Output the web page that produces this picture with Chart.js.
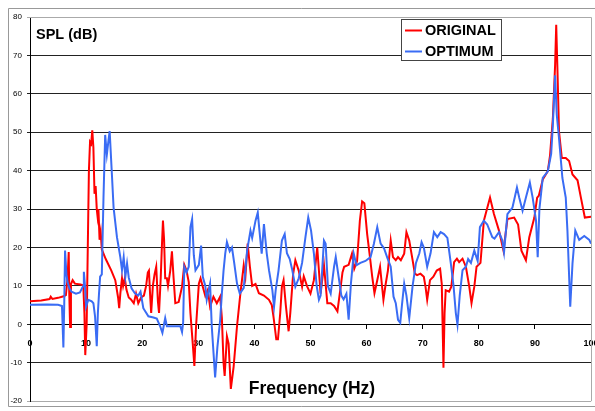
<!DOCTYPE html>
<html>
<head>
<meta charset="utf-8">
<script src="https://cdn.jsdelivr.net/npm/chart.js@4.4.0/dist/chart.umd.min.js"></script>
<style>
  body { margin: 0; background: #fff; }
  #wrap { width: 595px; height: 411px; }
</style>
</head>
<body>
<div id="wrap"><canvas id="splChart" width="595" height="411"></canvas></div>
<script>
// Frequency (Hz) and SPL (dB), 10 per row
const originalFreq = [
  0, 2, 3.5, 3.7, 4, 5, 6, 6.4, 6.7, 6.9,
  7.0, 7.15, 7.3, 7.6, 8, 9, 9.5, 9.7, 9.85, 10.1,
  10.3, 10.5, 10.7, 10.9, 11.1, 11.3, 11.5, 11.7, 11.9, 12.05,
  12.2, 12.4, 12.6, 12.8, 13.5, 14.5, 15.2, 15.7, 15.9, 16.1,
  16.4, 16.6, 16.9, 17.2, 17.6, 18, 18.5, 18.9, 19.3, 19.8,
  20.3, 20.7, 21.0, 21.2, 21.4, 21.6, 21.9, 22.2, 22.5, 22.8,
  23.0, 23.3, 23.5, 23.7, 23.9, 24.1, 24.4, 24.6, 25.0, 25.3,
  25.6, 25.9, 26.5, 27.1, 27.5, 27.9, 28.3, 28.6, 29.0, 29.3,
  29.6, 30.1, 30.4, 30.8, 31.25, 31.7, 32.1, 32.7, 33.3, 33.9,
  34.2, 34.5, 34.7, 35.1, 35.4, 35.8, 36.3, 36.9, 37.5, 38.1,
  38.4, 38.8, 39.2, 39.6, 40.2, 40.8, 41.7, 42.6, 43.1, 43.4,
  43.9, 44.2, 44.6, 44.9, 45.2, 45.6, 46.1, 46.4, 46.9, 47.3,
  47.9, 48.5, 48.8, 49.4, 50.0, 50.6, 51.2, 51.8, 52.4, 53.0,
  53.6, 54.2, 54.8, 55.4, 55.7, 56.0, 56.8, 57.4, 57.8, 58.3,
  58.8, 59.2, 59.6, 60.1, 60.6, 61.0, 61.4, 61.9, 62.4, 63.0,
  63.4, 63.8, 64.3, 64.7, 65.2, 65.6, 66.1, 66.7, 67.1, 67.6,
  68.2, 68.6, 69.0, 69.6, 70.2, 70.5, 70.8, 71.3, 71.9, 72.5,
  73.1, 73.4, 73.6, 73.7, 73.9, 74.1, 74.7, 75.1, 75.6, 76.1,
  76.5, 77.1, 77.7, 78.3, 78.7, 79.2, 79.6, 80.3, 80.9, 82.0,
  82.7, 83.6, 84.4, 85.1, 86.3, 87.0, 87.6, 88.4, 89.0, 89.9,
  90.4, 90.7, 91.4, 92.3, 92.7, 93.2, 93.6, 93.8, 94.0, 94.3,
  94.8, 95.5, 96.1, 96.7, 97.6, 98.2, 98.9, 100];
const originalSpl = [
  6.0, 6.2, 6.6, 7.2, 6.6, 6.9, 7.3, 7.6, 12, 18.8,
  8, -0.7, 10.5, 11.5, 10.6, 10.4, 10.1, 3, -8, 0,
  20, 40, 47.5, 47, 50.5, 46, 34, 36, 30, 28,
  30, 22, 24, 19.5, 17, 14, 11.5, 7, 4.2, 8,
  12, 10, 12, 9, 7, 6.5, 5.5, 8, 5.5, 7,
  7.5, 10, 13.5, 14, 8, 3, 10, 13, 15, 6,
  3, 12, 20, 27, 22, 12, 12, 10, 14, 19,
  12, 5.5, 5.8, 9.8, 15.5, 14, 11, 2.9, -4.8, -10.8,
  -0.5, 10.6, 12, 9.8, 7.4, 9, 4.6, 7.2, 5.5, 7.2,
  1.7, -10, -13.4, -3.1, -5, -16.8, -11, -0.5, 8, 15.4,
  12.5, 21, 15, 10, 10.5, 8.1, 7.5, 6.4, 5, 2,
  -3.9, -3.9, 2.9, 9.8, 11.5, 5, -1.8, 3, 13, 16.7,
  14, 9.8, 12.5, 9.9, 8, 11.5, 20, 8, 15.4, 5.5,
  5.5, 4.8, 3.4, 10, 13.5, 15, 15.5, 18.4, 14.5, 16.5,
  27, 32, 31.5, 23.5, 17.5, 12.4, 8.1, 11.5, 15, 6.4,
  10.5, 14, 21.8, 17.5, 16.7, 17.5, 16.7, 18.4, 24, 21.8,
  16.7, 13.2, 12.8, 13.2, 12.4, 9.8, 6.4, 11.5, 12.4, 14,
  14.5, 10.5, -3.9, -11.3, 3, 8.9, 8.5, 9.8, 16.2, 17.1,
  16.2, 17.1, 15, 9.8, 5.5, 9.8, 15, 16, 27, 33,
  28.7, 24.4, 19.2, 27.4, 27.8, 26, 19.2, 16.7, 22.7, 27.8,
  33, 33.5, 37.7, 39.9, 44, 53.6, 67.4, 78, 67.4, 50.2,
  43.3, 43.3, 42.5, 39, 37.5, 33, 27.8, 28];

const optimumFreq = [
  0, 3, 5, 5.7, 5.95, 6.1, 6.25, 6.5, 6.7, 7.0,
  7.4, 8.2, 8.9, 9.3, 9.5, 9.6, 9.8, 10.0, 10.4, 11.0,
  11.3, 11.6, 11.9, 12.1, 12.3, 12.5, 12.8, 13.1, 13.4, 13.7,
  14.0, 14.2, 14.6, 14.9, 15.5, 16.1, 16.4, 16.7, 17.0, 17.3,
  17.6, 18.1, 18.7, 19.3, 19.7, 20.2, 21.1, 22.0, 22.6, 23.2,
  23.6, 24.1, 24.4, 26.8, 27.1, 27.3, 27.5, 27.9, 28.3, 28.6,
  28.9, 29.2, 29.5, 30.1, 30.5, 30.8, 31.25, 31.5, 32.1, 32.4,
  33.0, 33.4, 33.9, 34.2, 34.5, 34.8, 35.1, 35.6, 36.0, 36.4,
  36.9, 37.4, 38.1, 38.7, 39.3, 39.6, 40.2, 40.6, 40.9, 41.3,
  41.7, 42.2, 42.6, 43.2, 43.5, 43.8, 44.3, 44.9, 45.4, 45.8,
  46.3, 46.7, 47.3, 47.9, 48.5, 49.1, 49.6, 50.1, 50.6, 51.1,
  51.5, 51.8, 52.4, 52.7, 53.1, 53.6, 54.2, 54.5, 55.1, 55.5,
  55.9, 56.4, 56.8, 57.2, 57.7, 58.2, 58.9, 59.8, 60.7, 61.3,
  61.9, 62.5, 63.1, 63.7, 64.3, 64.8, 65.2, 65.6, 66.0, 66.3,
  66.7, 67.1, 67.6, 68.2, 68.8, 69.4, 69.8, 70.2, 70.8, 71.4,
  72.0, 72.6, 73.2, 73.8, 74.4, 75.0, 75.5, 75.9, 76.2, 76.6,
  77.1, 77.7, 78.1, 78.6, 79.2, 79.8, 80.2, 80.9, 81.5, 82.4,
  82.8, 83.6, 84.2, 84.5, 85.1, 86.0, 86.8, 87.2, 87.8, 88.4,
  89.1, 89.6, 90.2, 90.5, 90.8, 91.4, 92.3, 92.9, 93.2, 93.6,
  93.9, 94.3, 94.9, 95.5, 95.8, 96.3, 96.7, 97.2, 97.9, 98.8,
  99.7, 100];
const optimumSpl = [
  5.1, 5.2, 5.1, 4.8, -6, 5, 19.2, 13, 11, 9.5,
  8.5, 8, 8.3, 9.5, 10, 13.7, 10, 4.6, 6.4, 6,
  5.5, 2, -5.7, 3, 8, 12.4, 13, 33, 49.3, 44.2,
  48, 50.3, 39, 30.4, 22.7, 17.5, 14.1, 17.5, 12.4, 15.8,
  12.2, 9.4, 8.1, 7.5, 8.5, 4.2, 2.1, 1.8, 1.5, -0.5,
  -2.2, 1.6, -0.5, -0.5, -2, 0.5, 15, 13.5, 15, 25.3,
  27.4, 18, 14.1, 15.5, 20.5, 12.4, 10, 6.4, 10.6, -0.5,
  -13.8, -6, 1.2, 8, 14, 18.4, 21.4, 19, 20, 16,
  10.6, 8, 9.5, 19.2, 24.4, 22.5, 27, 29.1, 24.4, 18.4,
  26.1, 18.5, 14.1, 8.9, 4.6, 9, 14, 21.8, 23.5, 18.5,
  17, 14.5, 9.8, 12, 16, 22.7, 27.8, 24.4, 18.5, 10,
  6.4, 7.5, 21.8, 21, 10, 8, 15, 17.5, 11.5, 7.5,
  6.5, 8, 1.2, 10.5, 18.4, 15.4, 16, 16.5, 17.5, 21,
  25.3, 21, 19.8, 17.3, 15, 7.2, 5.5, 1.2, 0.4, 5,
  10.6, 7.5, 1.6, 10, 16, 18.5, 21.4, 20, 15, 18.5,
  24, 22.7, 24, 23.5, 22.5, 16, 10, 3, -0.1, 7.5,
  14.1, 15, 17, 16, 19.2, 16.5, 25.3, 27, 26, 22.7,
  22.3, 24, 21.8, 18.8, 28.7, 30.4, 35.6, 33, 29.6, 33,
  36.9, 33, 27, 17.5, 30, 38.1, 39.8, 44.4, 51.9, 64.8,
  54.5, 48.4, 38.1, 33, 24.4, 4.6, 15.8, 24.4, 22, 23,
  22, 21];

const seriesNames = ['ORIGINAL', 'OPTIMUM'];
const seriesColors = ['#ff0000', '#3a6cf4'];

const FONT = '"Liberation Sans", Arial, Helvetica, sans-serif';

function toPoints(xs, ys) {
  return xs.map((x, i) => ({ x: x, y: ys[i] }));
}

// frame, plot border, axis titles and the boxed legend
const decorations = {
  id: 'decorations',
  beforeDraw(chart) {
    const ctx = chart.ctx;
    ctx.save();
    ctx.fillStyle = '#fff';
    ctx.fillRect(0, 0, chart.width, chart.height);
    ctx.strokeStyle = '#999';
    ctx.lineWidth = 1;
    ctx.beginPath();
    ctx.moveTo(595, 8.5); ctx.lineTo(8.5, 8.5); ctx.lineTo(8.5, 406.5); ctx.lineTo(595, 406.5);
    ctx.stroke();
    ctx.restore();
  },
  beforeDatasetsDraw(chart) {
    const ctx = chart.ctx;
    const a = chart.chartArea;
    ctx.save();
    ctx.strokeStyle = '#aaa';
    ctx.lineWidth = 1;
    ctx.beginPath();
    ctx.moveTo(a.left, Math.round(a.top) + 0.5);
    ctx.lineTo(Math.round(a.right) + 0.5, Math.round(a.top) + 0.5);
    ctx.lineTo(Math.round(a.right) + 0.5, a.bottom);
    ctx.stroke();

    ctx.fillStyle = '#000';
    ctx.textBaseline = 'middle';
    ctx.textAlign = 'left';
    ctx.font = 'bold 14.5px ' + FONT;
    ctx.fillText('SPL (dB)', 36, 35);
    ctx.textAlign = 'center';
    ctx.font = 'bold 17.5px ' + FONT;
    ctx.fillText('Frequency (Hz)', 312, 389);
    ctx.restore();
  },
  afterDraw(chart) {
    const ctx = chart.ctx;
    ctx.save();
    ctx.fillStyle = '#fff';
    ctx.fillRect(401.5, 19.5, 100, 41);
    ctx.strokeStyle = '#444';
    ctx.lineWidth = 1;
    ctx.strokeRect(401.5, 19.5, 100, 41);
    ctx.font = 'bold 14.5px ' + FONT;
    ctx.textBaseline = 'middle';
    ctx.textAlign = 'left';
    chart.data.datasets.forEach((ds, i) => {
      const y = 30.5 + i * 21;
      ctx.strokeStyle = ds.borderColor;
      ctx.lineWidth = 2;
      ctx.beginPath();
      ctx.moveTo(405, y);
      ctx.lineTo(422, y);
      ctx.stroke();
      ctx.fillStyle = '#000';
      ctx.fillText(ds.label, 425, y + 0.5);
    });
    ctx.restore();
  }
};

document.addEventListener('DOMContentLoaded', function() {
  const ctx = document.getElementById('splChart').getContext('2d');

  new Chart(ctx, {
    type: 'line',
    data: {
      datasets: [
        {
          label: seriesNames[0],
          data: toPoints(originalFreq, originalSpl),
          borderColor: seriesColors[0],
          borderWidth: 2,
          pointRadius: 0,
          tension: 0,
          fill: false,
          order: 1
        },
        {
          label: seriesNames[1],
          data: toPoints(optimumFreq, optimumSpl),
          borderColor: seriesColors[1],
          borderWidth: 2,
          pointRadius: 0,
          tension: 0,
          fill: false,
          order: 0
        }
      ]
    },
    options: {
      responsive: false,
      animation: false,
      devicePixelRatio: 1,
      layout: { padding: { left: 0, top: 17, right: 4, bottom: 6 } },
      plugins: {
        legend: { display: false },
        tooltip: { enabled: false }
      },
      scales: {
        x: {
          type: 'linear',
          position: { y: 0 },
          min: 0,
          max: 100,
          // the "100" label is allowed to run off the right edge, like the original
          afterFit: function(scale) { scale.paddingLeft = 0; scale.paddingRight = 0; },
          grid: { drawOnChartArea: false, drawTicks: true, tickLength: 4, color: '#000' },
          border: { color: '#000', width: 1 },
          ticks: {
            stepSize: 10,
            maxRotation: 0,
            padding: 10,
            color: '#000',
            font: { family: FONT, size: 9, weight: 'bold' }
          }
        },
        y: {
          min: -20,
          max: 80,
          afterFit: function(scale) { scale.width = 30; },
          grid: {
            tickLength: 3,
            color: function(c) {
              const v = c.tick ? c.tick.value : 0;
              return (v === 80 || v === -20) ? '#aaa' : '#222';
            }
          },
          border: { color: '#000', width: 1 },
          ticks: {
            stepSize: 10,
            padding: 5,
            color: '#000',
            font: { family: FONT, size: 8 }
          }
        }
      }
    },
    plugins: [decorations]
  });
});
</script>
</body>
</html>
